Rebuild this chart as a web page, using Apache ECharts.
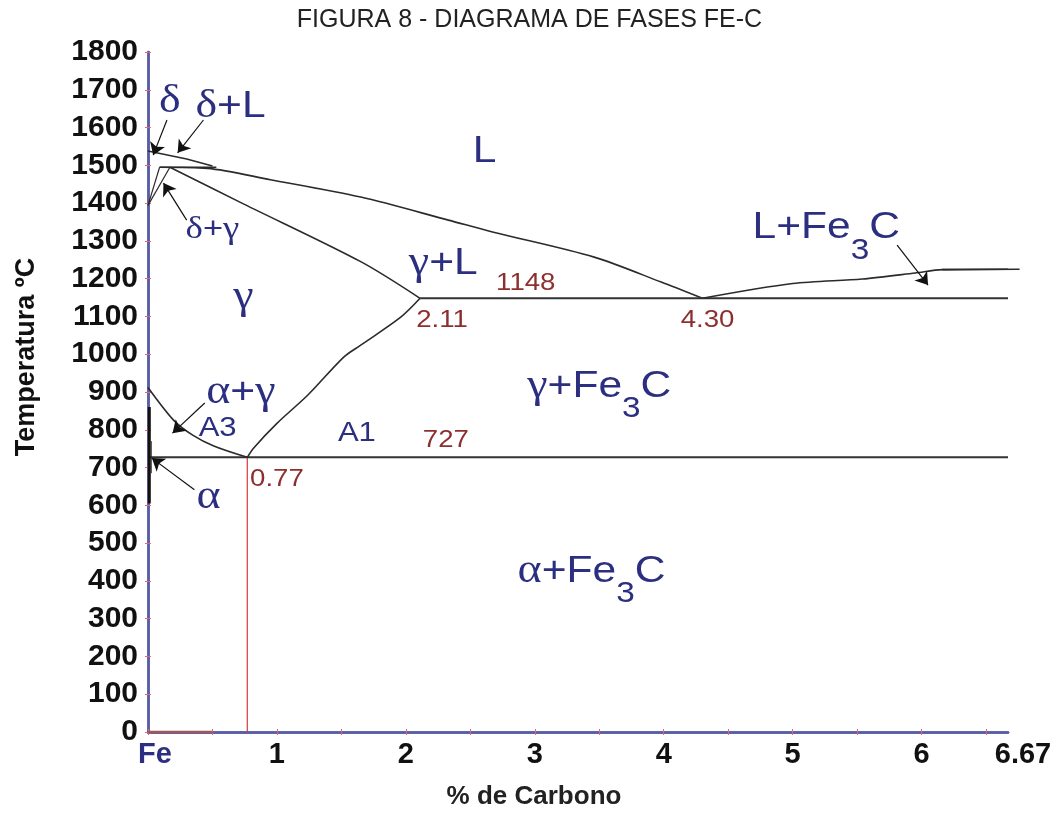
<!DOCTYPE html>
<html>
<head>
<meta charset="utf-8">
<script src="https://cdn.jsdelivr.net/npm/echarts@6/dist/echarts.min.js"></script>
<style>
  html, body { margin: 0; padding: 0; background: #ffffff; }
  #chart { width: 1059px; height: 816px; }
</style>
</head>
<body>
<div id="chart"></div>
<script>
// Fe-C phase diagram: composition in wt% carbon, temperature in °C

// Axis values and tick labels
const xLabelValues = [0, 1, 2, 3, 4, 5, 6, 6.67];
const xLabelTexts = ['Fe', '1', '2', '3', '4', '5', '6', '6.67'];
const xTickValues = [0, 0.5, 1, 1.5, 2, 2.5, 3, 3.5, 4, 4.5, 5, 5.5, 6, 6.5];

// Phase boundaries [%C, °C]
const liquidusLeft = [[0, 1538], [0.3, 1517], [0.5, 1498]];
const liquidus = [[0.09, 1495], [0.46, 1492], [0.95, 1462], [1.65, 1416], [2.33, 1355], [2.68, 1323], [3.46, 1257], [3.98, 1191], [4.3, 1148]];
const solidus = [[0.17, 1495], [0.74, 1398], [1.65, 1245], [2.11, 1148]];
const deltaSolvus = [[0, 1394], [0.09, 1495]];
const gammaDeltaLine = [[0, 1394], [0.17, 1495]];
const peritecticLine = [[0.09, 1495], [0.53, 1495]];
const eutecticLine = [[2.11, 1148], [6.67, 1148]];
const cementiteLiquidus = [[4.3, 1148], [5.0, 1187], [5.54, 1199], [5.95, 1215], [6.16, 1224], [6.67, 1225]];
const cementiteTail = [[6.16, 1224], [6.76, 1225]];
const eutectoidLine = [[0, 727], [6.67, 727]];
const a3Line = [[0, 912], [0.2, 825], [0.35, 785], [0.51, 757], [0.77, 727]];
const acmLine = [[0.77, 727], [0.82, 752], [1.0, 817], [1.24, 892], [1.52, 993], [1.65, 1024], [1.96, 1098], [2.11, 1148]];
const alphaBar = [[0.01, 860], [0.01, 605]];
const alphaSolvus = [[0.025, 770], [0.025, 685]];
const eutectoidDrop = [[0.77, 727], [0.77, 0]];
const ferriteBase = [[0, 0], [0.5, 0]];

// Annotation arrows: [from, to] in data units
const arrowPaths = [
  [[0.147, 1620], [0.04, 1527]],
  [[0.43, 1620], [0.23, 1533]],
  [[0.30, 1355], [0.12, 1453]],
  [[0.44, 871], [0.19, 791]],
  [[0.36, 641], [0.03, 725]],
  [[5.81, 1289], [6.05, 1183]]
];

// Region and point labels (rich text) and their anchors in data units
const labelTexts = [
  '{big|L}',
  '{gBig|δ}',
  '{gBig|δ}{big|+L}',
  '{gMid|δ}{mid|+}{gMid|γ}',
  '{gBig|γ}',
  '{gBig|γ}{big|+L}',
  '{gBig|γ}{big|+Fe}{sub|3}{big|C}',
  '{gBig|α}{big|+Fe}{sub|3}{big|C}',
  '{big|L+Fe}{sub|3}{big|C}',
  '{gBig|α}{big|+}{gBig|γ}',
  '{gBig|α}',
  '{sm|A3}',
  '{sm|A1}',
  '{num|1148}',
  '{num|2.11}',
  '{num|4.30}',
  '{num|727}',
  '{num|0.77}'
];
const labelAnchors = [
  [2.61, 1535],
  [0.17, 1668],
  [0.64, 1655],
  [0.50, 1330],
  [0.74, 1150],
  [2.29, 1240],
  [3.5, 915],
  [3.44, 425],
  [5.26, 1335],
  [0.72, 898],
  [0.47, 622],
  [0.54, 803],
  [1.62, 790],
  [2.93, 1187],
  [2.28, 1089],
  [4.34, 1089],
  [2.31, 772],
  [1.0, 668]
];

const LINE = '#2b2b2b';
const BLUE = '#2c2f80';
const RED = '#8e2f2f';
const TEXT_STRETCH = 1.15;

function boundary(data, opts) {
  return Object.assign({
    type: 'line',
    data: data,
    showSymbol: false,
    symbol: 'none',
    silent: true,
    animation: false,
    lineStyle: { color: LINE, width: 1.6 },
    z: 3
  }, opts || {});
}

function tok(family, size, color, extra) {
  return Object.assign({ fontFamily: family, fontSize: size, fill: color, color: color }, extra || {});
}

const rich = {
  big: tok('Liberation Sans', 37, BLUE),
  gBig: tok('Liberation Serif', 40, BLUE),
  mid: tok('Liberation Sans', 30, BLUE),
  gMid: tok('Liberation Serif', 32, BLUE),
  sub: tok('Liberation Sans', 29, BLUE, { padding: [46, 0, 0, 0] }),
  sm: tok('Liberation Sans', 27, BLUE),
  num: tok('Liberation Sans', 24, RED)
};

const axisLineStyle = { color: '#5a5ca6', width: 2.5 };
const tickStyle = { color: '#e06a6a', width: 1 };

const option = {
  backgroundColor: '#ffffff',
  animation: false,
  title: {
    text: 'FIGURA 8 - DIAGRAMA DE FASES FE-C',
    left: 'center',
    top: 3,
    textStyle: { fontFamily: 'Liberation Sans', fontSize: 25, fontWeight: 'normal', color: '#222' }
  },
  grid: { left: 148, top: 52, right: 51, bottom: 84, containLabel: false },
  xAxis: [
    {
      type: 'value', min: 0, max: 6.67, position: 'bottom',
      name: '% de Carbono', nameLocation: 'middle', nameGap: 52,
      nameTextStyle: { fontFamily: 'Liberation Sans', fontSize: 26, fontWeight: 'bold', color: '#222', padding: [0, 88, 0, 0] },
      axisLine: { show: true, lineStyle: axisLineStyle },
      axisTick: { show: true, inside: true, length: 3, customValues: xTickValues, lineStyle: tickStyle },
      splitLine: { show: false },
      axisLabel: {
        customValues: xLabelValues,
        margin: 8,
        formatter: function (v) {
          const i = xLabelValues.findIndex(a => Math.abs(a - v) < 1e-6);
          const t = i >= 0 ? xLabelTexts[i] : '';
          if (i === 0) return '{fe|' + t + '}';
          if (i === xLabelValues.length - 1) return '{end|' + t + '}';
          return t;
        },
        fontFamily: 'Liberation Sans', fontSize: 29, fontWeight: 'bold', color: '#111',
        rich: {
          fe: { fontFamily: 'Liberation Sans', fontSize: 29, fontWeight: 'bold', color: '#2c2f80', padding: [0, 0, 0, 14] },
          end: { fontFamily: 'Liberation Sans', fontSize: 29, fontWeight: 'bold', color: '#111', padding: [0, 0, 0, 30] }
        }
      }
    },
    {
      type: 'value', min: 0, max: 6.67, position: 'top',
      axisLine: { show: true, lineStyle: axisLineStyle },
      axisTick: { show: true, inside: true, length: 3, customValues: xTickValues, lineStyle: tickStyle },
      axisLabel: { show: false },
      splitLine: { show: false }
    }
  ],
  yAxis: [
    {
      type: 'value', min: 0, max: 1800, interval: 100, position: 'left',
      name: 'Temperatura ºC', nameLocation: 'middle', nameGap: 108, nameRotate: 90,
      nameTextStyle: { fontFamily: 'Liberation Sans', fontSize: 27, fontWeight: 'bold', color: '#111', padding: [0, 0, 0, 70] },
      axisLine: { show: true, lineStyle: axisLineStyle },
      axisTick: { show: true, inside: true, length: 3, lineStyle: tickStyle },
      splitLine: { show: false },
      axisLabel: {
        margin: 10, fontFamily: 'Liberation Sans', fontSize: 30, fontWeight: 'bold', color: '#111',
        formatter: function (v) { return String(v); }
      }
    },
    {
      type: 'value', min: 0, max: 1800, interval: 100, position: 'right',
      axisLine: { show: true, lineStyle: axisLineStyle },
      axisTick: { show: true, inside: true, length: 3, lineStyle: tickStyle },
      axisLabel: { show: false },
      splitLine: { show: false }
    }
  ],
  series: [
    boundary(liquidusLeft),
    boundary(liquidus, { smooth: 0.3 }),
    boundary(solidus, { smooth: 0.3 }),
    boundary(deltaSolvus, { lineStyle: { color: LINE, width: 1.2 } }),
    boundary(gammaDeltaLine, { lineStyle: { color: LINE, width: 1.2 } }),
    boundary(peritecticLine),
    boundary(eutecticLine, { lineStyle: { color: '#333', width: 2 } }),
    boundary(cementiteLiquidus, { smooth: 0.3 }),
    boundary(eutectoidLine, { lineStyle: { color: '#333', width: 2 } }),
    boundary(a3Line, { smooth: 0.3 }),
    boundary(acmLine, { smooth: 0.3 }),
    boundary(alphaBar, { lineStyle: { color: '#111', width: 3 } }),
    boundary(alphaSolvus, { lineStyle: { color: '#222', width: 1 } }),
    boundary(eutectoidDrop, { lineStyle: { color: '#d43a3a', width: 1.2 }, z: 2 }),
    boundary(ferriteBase, { lineStyle: { color: '#a65454', width: 2.5 }, z: 4 }),
    {
      // the Fe3C liquidus runs a little past the frame on the right
      type: 'lines',
      coordinateSystem: 'cartesian2d',
      polyline: true,
      clip: false,
      silent: true,
      animation: false,
      lineStyle: { color: LINE, width: 1.6, opacity: 1 },
      data: [{ coords: cementiteTail }],
      z: 3
    },
    {
      type: 'lines',
      coordinateSystem: 'cartesian2d',
      silent: true,
      animation: false,
      symbol: ['none', 'arrow'],
      symbolSize: [0, 12],
      lineStyle: { color: '#111', width: 1.2, opacity: 1 },
      data: arrowPaths.map(p => ({ coords: p })),
      z: 5
    }
  ]
};

const chart = echarts.init(document.getElementById('chart'), null, { renderer: 'canvas' });
chart.setOption(option);

// Region labels: anchored through the grid's scales, drawn slightly widened
const labelGraphics = labelTexts.map((t, i) => {
  const p = chart.convertToPixel({ xAxisIndex: 0, yAxisIndex: 0 }, labelAnchors[i]);
  return {
    type: 'text',
    x: p[0],
    y: p[1],
    scaleX: TEXT_STRETCH,
    silent: true,
    z: 10,
    style: {
      text: t,
      rich: rich,
      fill: BLUE,
      fontFamily: 'Liberation Sans',
      align: 'center',
      verticalAlign: 'middle'
    }
  };
});
chart.setOption({ graphic: labelGraphics });
</script>
</body>
</html>
